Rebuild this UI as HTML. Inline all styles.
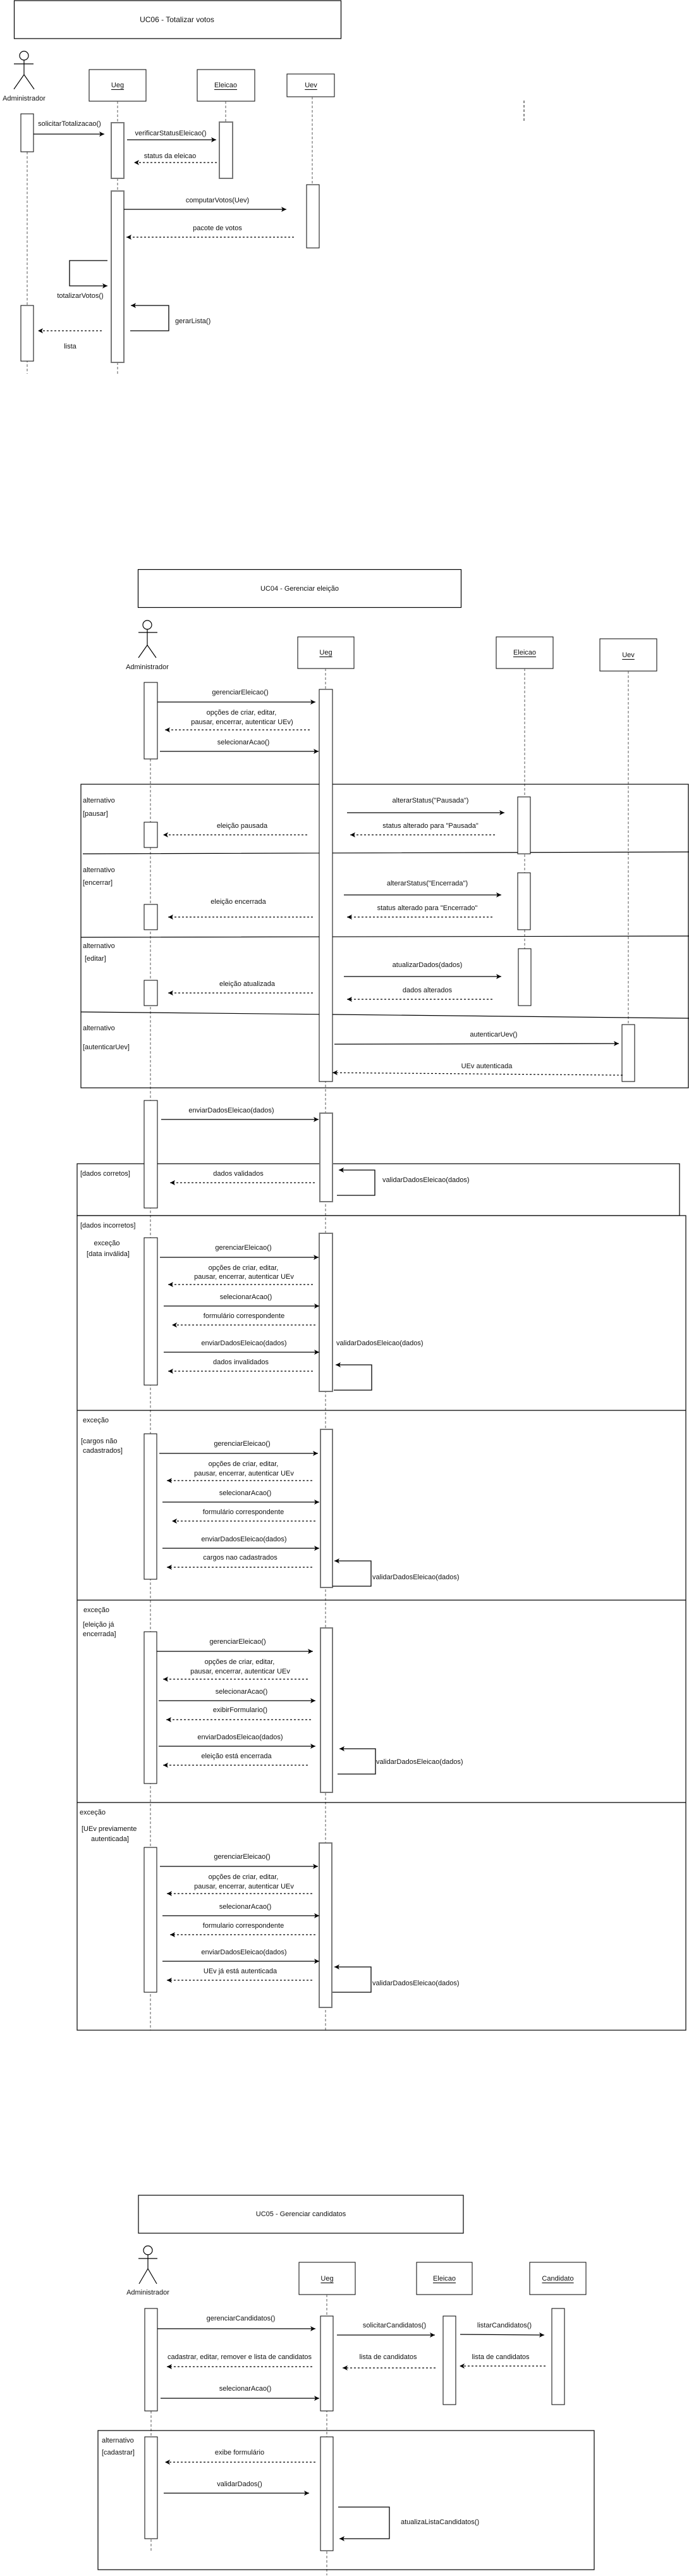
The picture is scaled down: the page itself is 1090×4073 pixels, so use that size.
<!DOCTYPE html>
<html><head><meta charset="utf-8"><style>
html,body{margin:0;padding:0;background:#fff;}
svg{display:block;}
text{font-family:"Liberation Sans",Arial,sans-serif;font-size:11px;fill:#111;dominant-baseline:central;}
.c{text-anchor:middle;}
.t{font-size:12px;}
.u{text-decoration:underline;}
.b{fill:#fff;stroke:#000;stroke-width:1;}
.g{fill:#fff;stroke:#777;stroke-width:2;}
.ll{stroke:#555;stroke-width:1;stroke-dasharray:4,3;fill:none;}
.m{stroke:#000;stroke-width:1.3;fill:none;marker-end:url(#a);}
.d{stroke:#000;stroke-width:1.2;fill:none;stroke-dasharray:3,3;marker-end:url(#a);}
.f{fill:none;stroke:#000;stroke-width:1.2;}
.ln{stroke:#000;stroke-width:1.2;fill:none;}
</style></head><body>
<svg width="1090" height="4073" viewBox="0 0 1090 4073" xmlns="http://www.w3.org/2000/svg">
<defs>
<marker id="a" markerWidth="10" markerHeight="10" refX="8" refY="4" orient="auto" markerUnits="userSpaceOnUse"><path d="M0,0 L8,4 L0,8 L2,4z" fill="#000"/></marker>
</defs>

<!-- ================= UC06 ================= -->
<rect x="22.5" y="1" width="517" height="60" class="f"/>
<text x="280" y="31" class="c t">UC06 - Totalizar votos</text>
<circle cx="38" cy="88" r="7" class="f"/>
<path d="M38,95 V118 M22,101 H53 M38,118 L22,141 M38,118 L54,141" class="f"/>
<text x="38" y="156" class="c">Administrador</text>
<rect x="141" y="110" width="90" height="50" class="b"/><text x="186" y="135" class="c u">Ueg</text>
<rect x="312" y="110" width="91" height="50" class="b"/><text x="357" y="135" class="c u">Eleicao</text>
<rect x="454" y="117" width="75" height="36" class="b"/><text x="492" y="135" class="c u">Uev</text>
<path d="M43,240 V591" class="ll"/>
<path d="M186,160 V194 M186,282 V302 M186,573 V594" class="ll"/>
<path d="M357,160 V193" class="ll"/>
<path d="M494,153 V292" class="ll"/>
<path d="M829,159 V193" stroke="#888" stroke-width="2" stroke-dasharray="4,3"/>
<rect x="33" y="180" width="20" height="60" class="b"/>
<rect x="176" y="194" width="20" height="88" class="g"/>
<rect x="347" y="193" width="21" height="89" class="g"/>
<rect x="176" y="302" width="20" height="271" class="g"/>
<rect x="485" y="292" width="20" height="100" class="b"/>
<rect x="33" y="483" width="20" height="88" class="b"/>
<text x="110" y="196" class="c">solicitarTotalizacao()</text>
<path d="M53,212 H165" class="m"/>
<text x="270" y="211" class="c">verificarStatusEleicao()</text>
<path d="M201,221 H342" class="m"/>
<text x="269" y="247" class="c">status da eleicao</text>
<path d="M343,257 H212" class="d"/>
<text x="344" y="317" class="c">computarVotos(Uev)</text>
<path d="M196,331 H453" class="m"/>
<text x="344" y="361" class="c">pacote de votos</text>
<path d="M465,375 H200" class="d"/>
<path d="M170,412 H110 V452 H170" class="m"/>
<text x="127" y="468" class="c">totalizarVotos()</text>
<path d="M206,523 H267 V483 H207" class="m"/>
<text x="277" y="508">gerarLista()</text>
<path d="M161,523 H60" class="d"/>
<text x="111" y="548" class="c">lista</text>

<!-- ================= UC04 ================= -->
<rect x="218.5" y="900.5" width="511" height="60" class="f"/>
<text x="474" y="931" class="c">UC04 - Gerenciar eleição</text>
<circle cx="233" cy="988" r="7" class="f"/>
<path d="M233,995 V1020 M219,1000 H249 M233,1020 L219,1040 M233,1020 L247,1040" class="f"/>
<text x="233" y="1055" class="c">Administrador</text>
<rect x="471" y="1007" width="89" height="50" class="b"/><text x="515.5" y="1032" class="c u">Ueg</text>
<rect x="785" y="1007" width="90" height="50" class="b"/><text x="830" y="1032" class="c u">Eleicao</text>
<rect x="949" y="1010" width="90" height="51" class="b"/><text x="994" y="1036" class="c u">Uev</text>
<path d="M238,1200 V3210" class="ll"/>
<path d="M515,1057 V3210" class="ll"/>
<path d="M830,1057 V1590" class="ll"/>
<path d="M994,1061 V1620" class="ll"/>

<!-- frames -->
<rect x="128" y="1240" width="961" height="480" class="f"/>
<path d="M131,1350 L1090,1347 M128,1482 L1090,1480 M128,1600 L526,1604 L1090,1610" class="ln"/>
<rect x="122" y="1840" width="953" height="82" class="f"/>
<rect x="122" y="1922" width="963" height="1288" class="f"/>
<path d="M122,2230 H1085 M122,2530 H1085 M122,2850 H1085" class="ln"/>

<!-- activations -->
<rect x="228" y="1079" width="21" height="121" class="b"/>
<rect x="228" y="1300" width="21" height="40" class="b"/>
<rect x="228" y="1430" width="21" height="40" class="b"/>
<rect x="228" y="1550" width="21" height="40" class="b"/>
<rect x="228" y="1740" width="21" height="170" class="b"/>
<rect x="228" y="1957" width="21" height="233" class="b"/>
<rect x="228" y="2267" width="20" height="230" class="b"/>
<rect x="228" y="2580" width="20" height="240" class="b"/>
<rect x="228" y="2921" width="20" height="229" class="b"/>
<rect x="505" y="1090" width="21" height="620" class="b"/>
<rect x="506" y="1760" width="20" height="140" class="g"/>
<rect x="505" y="1950" width="21" height="250" class="g"/>
<rect x="507" y="2260" width="19" height="250" class="g"/>
<rect x="507" y="2574" width="19" height="260" class="g"/>
<rect x="505" y="2914" width="20" height="260" class="g"/>
<rect x="819" y="1260" width="20" height="90" class="b"/>
<rect x="819" y="1380" width="20" height="90" class="b"/>
<rect x="820" y="1500" width="20" height="90" class="b"/>
<rect x="984" y="1620" width="20" height="90" class="b"/>

<text x="380" y="1095" class="c">gerenciarEleicao()</text>
<path d="M249,1110 H499" class="m"/>
<text x="382" y="1127" class="c">opções de criar, editar,</text>
<text x="383" y="1142" class="c">pausar, encerrar, autenticar UEv)</text>
<path d="M490,1154 H261" class="d"/>
<text x="385" y="1174" class="c">selecionarAcao()</text>
<path d="M253,1188 H504" class="m"/>

<text x="131" y="1266">alternativo</text>
<text x="131" y="1287">[pausar]</text>
<text x="681" y="1266" class="c">alterarStatus("Pausada")</text>
<path d="M549,1285 H798" class="m"/>
<text x="383" y="1306" class="c">eleição pausada</text>
<path d="M486,1320 H258" class="d"/>
<text x="681" y="1306" class="c">status alterado para "Pausada"</text>
<path d="M783,1320 H554" class="d"/>

<text x="131" y="1376">alternativo</text>
<text x="131" y="1396">[encerrar]</text>
<text x="676" y="1397" class="c">alterarStatus("Encerrada")</text>
<path d="M544,1415 H793" class="m"/>
<text x="377" y="1426" class="c">eleição encerrada</text>
<path d="M495,1450 H266" class="d"/>
<text x="676" y="1436" class="c">status alterado para "Encerrado"</text>
<path d="M779,1450 H549" class="d"/>

<text x="131" y="1496">alternativo</text>
<text x="134" y="1516">[editar]</text>
<text x="676" y="1526" class="c">atualizarDados(dados)</text>
<path d="M544,1544 H793" class="m"/>
<text x="391" y="1556" class="c">eleição atualizada</text>
<path d="M495,1570 H266" class="d"/>
<text x="676" y="1566" class="c">dados alterados</text>
<path d="M779,1580 H549" class="d"/>

<text x="131" y="1626">alternativo</text>
<text x="131" y="1656">[autenticarUev]</text>
<text x="781" y="1636" class="c">autenticarUev()</text>
<path d="M529,1651 L979,1650" class="m"/>
<text x="770" y="1686" class="c">UEv autenticada</text>
<path d="M985,1700 L526,1696" class="d"/>

<text x="366" y="1756" class="c">enviarDadosEleicao(dados)</text>
<path d="M255,1770 H504" class="m"/>
<text x="127" y="1856">[dados corretos]</text>
<text x="377" y="1856" class="c">dados validados</text>
<path d="M498,1870 H269" class="d"/>
<path d="M533,1890 H593 V1850 H536" class="m"/>
<text x="605" y="1866">validarDadosEleicao(dados)</text>

<text x="127" y="1938">[dados incorretos]</text>
<text x="169" y="1966" class="c">exceção</text>
<text x="171" y="1983" class="c">[data inválida]</text>
<text x="385" y="1973" class="c">gerenciarEleicao()</text>
<path d="M253,1988 H504" class="m"/>
<text x="385" y="2005" class="c">opções de criar, editar,</text>
<text x="386" y="2019" class="c">pausar, encerrar, autenticar UEv</text>
<path d="M495,2031 H266" class="d"/>
<text x="389" y="2051" class="c">selecionarAcao()</text>
<path d="M259,2065 H505" class="m"/>
<text x="386" y="2081" class="c">formulário correspondente</text>
<path d="M499,2095 H272" class="d"/>
<text x="386" y="2124" class="c">enviarDadosEleicao(dados)</text>
<path d="M259,2138 H505" class="m"/>
<text x="532" y="2124">validarDadosEleicao(dados)</text>
<text x="381" y="2154" class="c">dados invalidados</text>
<path d="M495,2168 H266" class="d"/>
<path d="M528,2198 H588 V2158 H531" class="m"/>

<text x="131" y="2246">exceção</text>
<text x="128" y="2279">[cargos não</text>
<text x="131" y="2294">cadastrados]</text>
<text x="383" y="2283" class="c">gerenciarEleicao()</text>
<path d="M252,2298 H503" class="m"/>
<text x="385" y="2315" class="c">opções de criar, editar,</text>
<text x="386" y="2330" class="c">pausar, encerrar, autenticar UEv</text>
<path d="M494,2341 H264" class="d"/>
<text x="388" y="2361" class="c">selecionarAcao()</text>
<path d="M257,2375 H505" class="m"/>
<text x="385" y="2391" class="c">formulário correspondente</text>
<path d="M499,2405 H272" class="d"/>
<text x="386" y="2434" class="c">enviarDadosEleicao(dados)</text>
<path d="M257,2448 H505" class="m"/>
<text x="380" y="2463" class="c">cargos nao cadastrados</text>
<path d="M494,2478 H264" class="d"/>
<path d="M526,2508 H587 V2468 H529" class="m"/>
<text x="589" y="2494">validarDadosEleicao(dados)</text>

<text x="132" y="2546">exceção</text>
<text x="131" y="2569">[eleição já</text>
<text x="131" y="2584">encerrada]</text>
<text x="376" y="2596" class="c">gerenciarEleicao()</text>
<path d="M248,2611 H495" class="m"/>
<text x="379" y="2628" class="c">opções de criar, editar,</text>
<text x="380" y="2643" class="c">pausar, encerrar, autenticar UEv</text>
<path d="M487,2655 H258" class="d"/>
<text x="382" y="2675" class="c">selecionarAcao()</text>
<path d="M251,2689 H499" class="m"/>
<text x="380" y="2704" class="c">exibirFormulario()</text>
<path d="M492,2719 H263" class="d"/>
<text x="380" y="2747" class="c">enviarDadosEleicao(dados)</text>
<path d="M251,2761 H499" class="m"/>
<text x="374" y="2777" class="c">eleição está encerrada</text>
<path d="M487,2791 H258" class="d"/>
<path d="M534,2805 H594 V2765 H537" class="m"/>
<text x="595" y="2786">validarDadosEleicao(dados)</text>

<text x="126" y="2866">exceção</text>
<text x="129" y="2892">[UEv previamente</text>
<text x="144" y="2908">autenticada]</text>
<text x="383" y="2936" class="c">gerenciarEleicao()</text>
<path d="M253,2951 H503" class="m"/>
<text x="385" y="2968" class="c">opções de criar, editar,</text>
<text x="386" y="2983" class="c">pausar, encerrar, autenticar UEv</text>
<path d="M494,2994 H264" class="d"/>
<text x="388" y="3015" class="c">selecionarAcao()</text>
<path d="M257,3029 H505" class="m"/>
<text x="385" y="3045" class="c">formulario correspondente</text>
<path d="M499,3059 H269" class="d"/>
<text x="386" y="3087" class="c">enviarDadosEleicao(dados)</text>
<path d="M257,3101 H505" class="m"/>
<text x="380" y="3117" class="c">UEv já está autenticada</text>
<path d="M494,3131 H264" class="d"/>
<path d="M526,3150 H587 V3110 H529" class="m"/>
<text x="589" y="3136">validarDadosEleicao(dados)</text>

<!-- ================= UC05 ================= -->
<rect x="219" y="3471" width="514" height="60" class="f"/>
<text x="476" y="3501" class="c">UC05 - Gerenciar candidatos</text>
<circle cx="234" cy="3558" r="7" class="f"/>
<path d="M234,3565 V3587 M219,3571 H249 M234,3587 L220,3611 M234,3587 L248,3611" class="f"/>
<text x="234" y="3625" class="c">Administrador</text>
<rect x="473" y="3577" width="89" height="51" class="b"/><text x="517.5" y="3603" class="c u">Ueg</text>
<rect x="659" y="3577" width="88" height="51" class="b"/><text x="703" y="3603" class="c u">Eleicao</text>
<rect x="838" y="3577" width="89" height="51" class="b"/><text x="882.5" y="3603" class="c u">Candidato</text>
<path d="M239,3812 V4034" class="ll"/>
<path d="M517,3628 V4072" class="ll"/>
<rect x="155" y="3843" width="785" height="220" class="f"/>
<rect x="229" y="3650" width="20" height="162" class="b"/>
<rect x="507" y="3662" width="20" height="150" class="b"/>
<rect x="701" y="3662" width="20" height="140" class="b"/>
<rect x="873" y="3650" width="20" height="152" class="b"/>
<rect x="229" y="3853" width="20" height="161" class="b"/>
<rect x="507" y="3853" width="20" height="180" class="b"/>
<text x="381" y="3666" class="c">gerenciarCandidatos()</text>
<path d="M249,3682 H499" class="m"/>
<text x="624" y="3677" class="c">solicitarCandidatos()</text>
<path d="M533,3692 H688" class="m"/>
<text x="798" y="3677" class="c">listarCandidatos()</text>
<path d="M728,3691 L861,3692" class="m"/>
<text x="379" y="3727" class="c">cadastrar, editar, remover e lista de candidatos</text>
<path d="M494,3742 H264" class="d"/>
<text x="614" y="3727" class="c">lista de candidatos</text>
<path d="M689,3744 H542" class="d"/>
<text x="792" y="3727" class="c">lista de candidatos</text>
<path d="M863,3741 H727" class="d"/>
<text x="388" y="3777" class="c">selecionarAcao()</text>
<path d="M254,3792 H505" class="m"/>
<text x="161" y="3859">alternativo</text>
<text x="161" y="3878">[cadastrar]</text>
<text x="379" y="3878" class="c">exibe formulário</text>
<path d="M499,3893 H261" class="d"/>
<text x="379" y="3928" class="c">validarDados()</text>
<path d="M259,3942 H489" class="m"/>
<path d="M535,3964 H616 V4014 H537" class="m"/>
<text x="634" y="3988">atualizaListaCandidatos()</text>
</svg>
</body></html>
